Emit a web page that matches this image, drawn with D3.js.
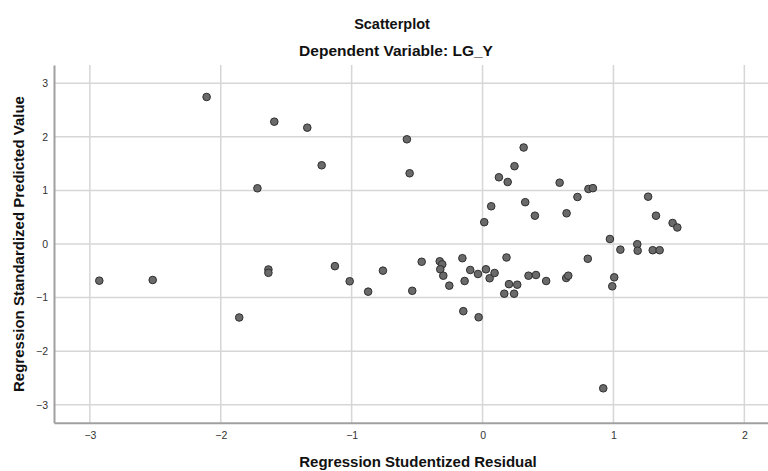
<!DOCTYPE html>
<html><head><meta charset="utf-8">
<script src="https://cdn.jsdelivr.net/npm/d3@7"></script>
<style>
html,body{margin:0;padding:0;background:#fff;}
svg{display:block;font-family:"Liberation Sans",Arial,sans-serif;}
</style></head>
<body><svg id="c" width="768" height="471"></svg>
<script>
// Regression Studentized Residual (x) values
const residuals = [-2.928,-2.520,-1.859,-2.108,-1.720,-1.591,-1.339,-1.229,-0.578,-0.557,
 0.125,0.192,0.066,0.013,0.314,0.244,0.589,0.326,0.400,0.642,
 0.725,0.809,0.843,0.973,1.053,1.182,1.185,1.265,1.325,1.300,
 1.353,1.452,1.488,0.804,0.183,-1.636,-1.636,-1.128,-1.015,-0.874,
 -0.761,-0.537,-0.465,-0.327,-0.308,-0.323,-0.300,-0.154,-0.254,-0.094,
 -0.137,-0.035,0.026,0.054,0.092,0.202,0.265,0.166,0.241,0.351,
 0.408,0.486,-0.147,-0.030,0.639,0.655,1.006,0.991,0.922];
// Regression Standardized Predicted Value (y) values
const predicted = [-0.685,-0.672,-1.372,2.744,1.040,2.283,2.171,1.469,1.954,1.320,
 1.245,1.157,0.704,0.407,1.801,1.452,1.144,0.780,0.528,0.573,
 0.877,1.027,1.042,0.093,-0.106,-0.004,-0.125,0.883,0.528,-0.116,
 -0.116,0.392,0.308,-0.276,-0.252,-0.476,-0.538,-0.414,-0.696,-0.890,
 -0.498,-0.874,-0.332,-0.323,-0.379,-0.472,-0.592,-0.265,-0.778,-0.485,
 -0.691,-0.560,-0.472,-0.640,-0.541,-0.750,-0.760,-0.928,-0.928,-0.592,
 -0.579,-0.691,-1.254,-1.368,-0.635,-0.592,-0.622,-0.790,-2.694];
const xTicks = [-3,-2,-1,0,1,2];
const yTicks = [-3,-2,-1,0,1,2,3];
const titleText = "Scatterplot";
const subtitleText = "Dependent Variable: LG_Y";
const xTitle = "Regression Studentized Residual";
const yTitle = "Regression Standardized Predicted Value";

(function () {
const svg = d3.select("#c");
const pl = 54, pr = 784, pt = 65, pb = 422.7;
const x = d3.scaleLinear().domain([-3.274, 2.303]).range([pl, pr]);
const y = d3.scaleLinear().domain([-3.336, 3.341]).range([pb, pt]);

// gridlines
svg.append("g").selectAll("line").data(xTicks).join("line")
  .attr("x1", d => x(d)).attr("x2", d => x(d)).attr("y1", pt).attr("y2", pb)
  .attr("stroke", "#d6d6d6").attr("stroke-width", 1.5);
svg.append("g").selectAll("line").data(yTicks).join("line")
  .attr("x1", pl).attr("x2", pr).attr("y1", d => y(d)).attr("y2", d => y(d))
  .attr("stroke", "#d6d6d6").attr("stroke-width", 1.5);

// axes
const xAxis = d3.axisBottom(x).tickValues(xTicks).tickSize(0).tickPadding(9).tickFormat(d3.format("d"));
const yAxis = d3.axisLeft(y).tickValues(yTicks).tickSize(0).tickPadding(6).tickFormat(d3.format("d"));
const gx = svg.append("g").attr("transform", `translate(0,${pb})`).call(xAxis);
const gy = svg.append("g").attr("transform", `translate(${pl},0)`).call(yAxis);
[gx, gy].forEach(g => {
  g.select(".domain").attr("stroke", "#a0a0a0").attr("stroke-width", 2);
  g.selectAll("text").attr("fill", "#333").attr("font-size", 10.5)
   .attr("font-family", "'Liberation Sans', Arial, sans-serif");
});

// points
svg.append("g").selectAll("circle").data(residuals.map((r, i) => [r, predicted[i]])).join("circle")
  .attr("cx", d => x(d[0])).attr("cy", d => y(d[1])).attr("r", 3.8)
  .attr("fill", "#6a6a6a").attr("stroke", "#2e2e2e").attr("stroke-width", 1);

// titles
svg.append("text").attr("x", 392).attr("y", 29).attr("text-anchor", "middle")
  .attr("font-size", 14.5).attr("font-weight", "bold").attr("fill", "#111").text(titleText);
svg.append("text").attr("x", 396).attr("y", 55.5).attr("text-anchor", "middle")
  .attr("font-size", 15.5).attr("font-weight", "bold").attr("fill", "#111").text(subtitleText);
svg.append("text").attr("x", 418).attr("y", 467).attr("text-anchor", "middle")
  .attr("font-size", 15).attr("font-weight", "bold").attr("fill", "#111").text(xTitle);
svg.append("text").attr("transform", "translate(24,244) rotate(-90)").attr("text-anchor", "middle")
  .attr("font-size", 15).attr("font-weight", "bold").attr("fill", "#111").text(yTitle);
})();
</script></body></html>
